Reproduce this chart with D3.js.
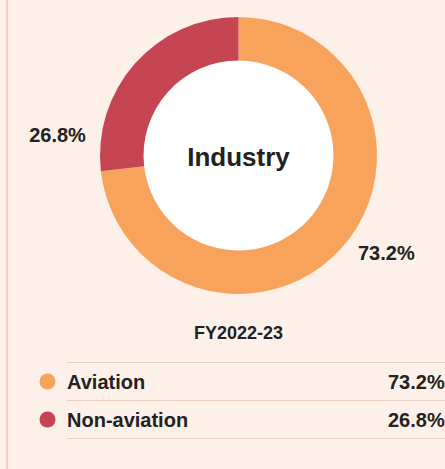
<!DOCTYPE html>
<html>
<head>
<meta charset="utf-8">
<script src="https://cdn.jsdelivr.net/npm/d3@7"></script>
<style>
  html, body { margin: 0; padding: 0; background: #fdf0e8; }
  svg { display: block; font-family: "Liberation Sans", Arial, sans-serif; }
</style>
</head>
<body>
<div id="chart"></div>
<script>
const categories = ["Aviation", "Non-aviation"];
const shares = [73.2, 26.8];
const sliceColors = ["#f8a35c", "#c64552"];
const centreTitle = "Industry";
const periodLabel = "FY2022-23";

const width = 445;
const height = 469;
const cx = 238.5;
const cy = 155.5;
const outerRadius = 138.5;
const innerRadius = 95;
const labelRadius = 154;
// where along each slice its outside label sits (0 = start, 1 = end)
const labelFrac = [0.49, 0.146];

const data = categories.map((name, i) => ({ name, value: shares[i] }));
const fmt = (v) => `${v.toFixed(1)}%`;

const svg = d3
  .select("#chart")
  .append("svg")
  .attr("width", width)
  .attr("height", height);

svg.append("rect")
  .attr("width", width)
  .attr("height", height)
  .attr("fill", "#fdf0e8");

// left panel border
svg.append("line")
  .attr("x1", 7).attr("x2", 7)
  .attr("y1", 0).attr("y2", height)
  .attr("stroke", "#f3cfc3")
  .attr("stroke-width", 2);

const color = d3.scaleOrdinal().domain(categories).range(sliceColors);

const pie = d3.pie().sort(null).value((d) => d.value);
const arcs = pie(data);

const arc = d3.arc().innerRadius(innerRadius).outerRadius(outerRadius);

const g = svg.append("g").attr("transform", `translate(${cx}, ${cy})`);

g.append("circle").attr("r", innerRadius).attr("fill", "#ffffff");

g.selectAll("path.slice")
  .data(arcs)
  .enter()
  .append("path")
  .attr("class", "slice")
  .attr("d", arc)
  .attr("fill", (d) => color(d.data.name));

g.append("text")
  .attr("y", 10)
  .attr("text-anchor", "middle")
  .attr("font-size", 26)
  .attr("font-weight", "bold")
  .attr("fill", "#222")
  .text(centreTitle);

const labelAngle = (d, i) => d.startAngle + (d.endAngle - d.startAngle) * labelFrac[i];

g.selectAll("text.pct")
  .data(arcs)
  .enter()
  .append("text")
  .attr("class", "pct")
  .attr("x", (d, i) => labelRadius * Math.sin(labelAngle(d, i)))
  .attr("y", (d, i) => -labelRadius * Math.cos(labelAngle(d, i)))
  .attr("dy", "0.35em")
  .attr("text-anchor", (d, i) => (Math.sin(labelAngle(d, i)) < 0 ? "end" : "start"))
  .attr("font-size", 20)
  .attr("font-weight", "bold")
  .attr("fill", "#222")
  .text((d) => fmt(d.data.value));

svg.append("text")
  .attr("x", cx)
  .attr("y", 339)
  .attr("text-anchor", "middle")
  .attr("font-size", 18)
  .attr("font-weight", "bold")
  .attr("fill", "#222")
  .text(periodLabel);

// legend table
const rowY = d3.scaleBand().domain(categories).range([362.5, 438.5]);
const legend = svg.append("g");

legend.selectAll("line.rule")
  .data([categories[0], ...categories])
  .enter()
  .append("line")
  .attr("class", "rule")
  .attr("x1", 67)
  .attr("x2", width)
  .attr("y1", (d, i) => (i === 0 ? rowY(d) : rowY(d) + rowY.bandwidth()))
  .attr("y2", (d, i) => (i === 0 ? rowY(d) : rowY(d) + rowY.bandwidth()))
  .attr("stroke", "#ebcbbd")
  .attr("stroke-width", 1);

const rows = legend.selectAll("g.row")
  .data(data)
  .enter()
  .append("g")
  .attr("class", "row")
  .attr("transform", (d) => `translate(0, ${rowY(d.name) + rowY.bandwidth() / 2})`);

rows.append("circle")
  .attr("cx", 47.5)
  .attr("cy", 0)
  .attr("r", 8)
  .attr("fill", (d) => color(d.name));

rows.append("text")
  .attr("x", 67)
  .attr("dy", "0.35em")
  .attr("font-size", 20)
  .attr("font-weight", "bold")
  .attr("fill", "#222")
  .text((d) => d.name);

rows.append("text")
  .attr("x", 388)
  .attr("dy", "0.35em")
  .attr("font-size", 20)
  .attr("font-weight", "bold")
  .attr("fill", "#222")
  .text((d) => fmt(d.value));
</script>
</body>
</html>
